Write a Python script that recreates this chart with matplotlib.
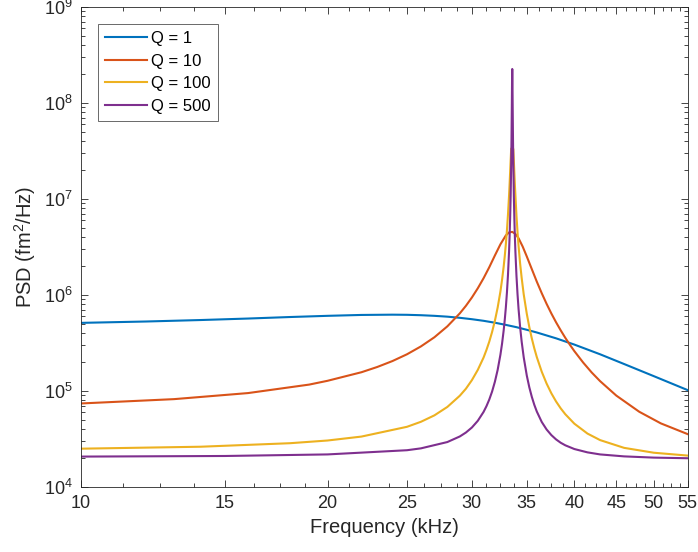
import matplotlib
matplotlib.use("Agg")
import matplotlib.pyplot as plt
from matplotlib.ticker import FixedLocator, FixedFormatter, LogLocator, NullFormatter
import numpy as np

# values (frequency in kHz, PSD in fm^2/Hz)
freq_q1 = [10, 12, 14, 16, 18, 20, 22, 24, 25, 26, 27, 28, 29, 30, 31, 32, 33, 34, 35, 36,
           38, 40, 43, 46, 50, 55]
psd_q1 = [5.10e5, 5.27e5, 5.46e5, 5.66e5, 5.87e5, 6.04e5, 6.17e5, 6.21e5, 6.19e5, 6.13e5,
          6.04e5, 5.92e5, 5.76e5, 5.57e5, 5.36e5, 5.12e5, 4.86e5, 4.60e5, 4.32e5, 4.05e5,
          3.52e5, 3.03e5, 2.40e5, 1.90e5, 1.42e5, 1.015e5]

freq_q10 = [10, 13, 16, 19, 20, 22, 23, 24, 25, 26, 27, 28, 29, 29.5, 30, 30.5, 31, 31.5,
            32, 32.5, 33, 33.3, 33.6, 33.9, 34.2, 34.6, 35, 35.5, 36, 36.5, 37, 37.5, 38,
            38.5, 39, 39.5, 40, 41, 42, 43, 45, 48, 51, 55]
psd_q10 = [7.37e4, 8.18e4, 9.46e4, 1.16e5, 1.27e5, 1.56e5, 1.77e5, 2.04e5, 2.40e5, 2.90e5,
           3.61e5, 4.69e5, 6.41e5, 7.68e5, 9.38e5, 1.17e6, 1.49e6, 1.94e6, 2.57e6, 3.36e6,
           4.16e6, 4.47e6, 4.53e6, 4.31e6, 3.89e6, 3.18e6, 2.51e6, 1.85e6, 1.37e6, 1.04e6,
           8.06e5, 6.39e5, 5.17e5, 4.26e5, 3.56e5, 3.02e5, 2.59e5, 1.97e5, 1.55e5, 1.26e5,
           8.91e4, 6.04e4, 4.57e4, 3.53e4]

freq_q100 = [10, 14, 18, 20, 22, 25, 26, 27, 28, 29, 29.5, 30, 30.5, 31, 31.25, 31.5, 31.75,
             32, 32.25, 32.5, 32.65, 32.8, 32.9, 33, 33.1, 33.2, 33.3, 33.35, 33.45, 33.5,
             33.7, 33.75, 33.85, 34.0, 34.1, 34.2, 34.35, 34.5, 34.7, 35, 35.25, 35.5, 35.75,
             36, 36.5, 37, 37.5, 38, 38.5, 39, 40, 41.5, 43, 46, 50, 55]
psd_q100 = [2.49e4, 2.61e4, 2.84e4, 3.03e4, 3.33e4, 4.21e4, 4.75e4, 5.54e4, 6.78e4, 8.88e4,
            1.05e5, 1.29e5, 1.65e5, 2.22e5, 2.66e5, 3.25e5, 4.10e5, 5.36e5, 7.36e5, 1.08e6,
            1.43e6, 1.97e6, 2.53e6, 3.36e6, 4.67e6, 6.88e6, 1.09e7, 1.42e7, 2.53e7, 3.35e7,
            3.31e7, 2.49e7, 1.39e7, 6.69e6, 4.52e6, 3.24e6, 2.12e6, 1.50e6, 1.01e6, 6.34e5,
            4.60e5, 3.50e5, 2.76e5, 2.24e5, 1.58e5, 1.19e5, 9.41e4, 7.73e4, 6.55e4, 5.69e4,
            4.54e4, 3.58e4, 3.06e4, 2.54e4, 2.26e4, 2.11e4]

freq_q500 = [10, 15, 20, 25, 26, 28, 29, 29.5, 30, 30.5, 31, 31.25, 31.5, 31.75, 32, 32.25,
             32.5, 32.65, 32.8, 32.9, 33, 33.1, 33.2, 33.3, 33.35, 33.4, 33.45, 33.5, 33.53,
             33.56, 33.58, 33.6, 33.62, 33.64, 33.67, 33.7, 33.75, 33.8, 33.85, 33.9, 34.0,
             34.1, 34.2, 34.35, 34.5, 34.7, 35, 35.25, 35.5, 35.75, 36, 36.5, 37, 37.5, 38,
             38.5, 39, 40, 41.5, 43, 46, 50, 55]
psd_q500 = [2.06e4, 2.09e4, 2.17e4, 2.40e4, 2.51e4, 2.92e4, 3.34e4, 3.67e4, 4.14e4, 4.86e4,
            6.02e4, 6.90e4, 8.10e4, 9.81e4, 1.24e5, 1.65e5, 2.37e5, 3.09e5, 4.26e5, 5.49e5,
            7.37e5, 1.05e6, 1.62e6, 2.84e6, 4.05e6, 6.25e6, 1.08e7, 2.29e7, 4.23e7, 9.33e7,
            1.67e8, 2.26e8, 1.67e8, 9.32e7, 4.22e7, 2.28e7, 1.07e7, 6.17e6, 3.97e6, 2.79e6,
            1.58e6, 1.02e6, 7.12e5, 4.61e5, 3.25e5, 2.23e5, 1.44e5, 1.085e5, 8.62e4, 7.12e4,
            6.07e4, 4.73e4, 3.95e4, 3.45e4, 3.11e4, 2.87e4, 2.70e4, 2.47e4, 2.28e4, 2.17e4,
            2.07e4, 2.01e4, 1.98e4]

series_labels = ["Q = 1", "Q = 10", "Q = 100", "Q = 500"]
series_colors = ["#0072BD", "#D95319", "#EDB120", "#7E2F8E"]

x_ticks = [10, 15, 20, 25, 30, 35, 40, 45, 50, 55]
x_minor = list(np.arange(10, 55.01, 1.25))

plt.rcParams['font.family'] = ['Liberation Sans', 'DejaVu Sans']
plt.rcParams['mathtext.fontset'] = 'custom'
plt.rcParams['mathtext.rm'] = 'Liberation Sans'
plt.rcParams['mathtext.it'] = 'Liberation Sans:italic'

axis_col = '#262626'

fig = plt.figure(figsize=(6.98, 5.52), dpi=100)
ax = fig.add_axes([0.1156, 0.1183, 0.8697, 0.8690])

data = [(freq_q1, psd_q1), (freq_q10, psd_q10), (freq_q100, psd_q100), (freq_q500, psd_q500)]
for (f, p), lab, col in zip(data, series_labels, series_colors):
    ax.plot(f, p, color=col, lw=1.5, label=lab)

ax.set_xscale('log')
ax.set_yscale('log')
ax.set_xlim(10, 55)
ax.set_ylim(1e4, 1e9)

ax.xaxis.set_major_locator(FixedLocator(x_ticks))
ax.xaxis.set_major_formatter(FixedFormatter([str(t) for t in x_ticks]))
ax.xaxis.set_minor_locator(FixedLocator(x_minor))
ax.xaxis.set_minor_formatter(NullFormatter())
ax.yaxis.set_major_locator(LogLocator(base=10, numticks=10))
ax.yaxis.set_minor_locator(LogLocator(base=10, subs=np.arange(2, 10), numticks=10))
ax.yaxis.set_minor_formatter(NullFormatter())

ax.tick_params(which='both', direction='in', top=True, right=True, colors=axis_col,
               labelsize=13, width=0.6)
ax.tick_params(which='major', length=5, pad=6)
ax.tick_params(which='minor', length=3)
for s in ax.spines.values():
    s.set_color(axis_col)
    s.set_linewidth(0.6)

ax.set_xlabel('Frequency (kHz)', fontsize=14.5, color=axis_col, labelpad=4)
ax.set_ylabel('PSD (fm$^2$/Hz)', fontsize=14.5, color=axis_col, labelpad=4)

leg = ax.legend(loc='upper left', bbox_to_anchor=(0.028, 0.965), borderaxespad=0,
                fancybox=False, edgecolor=axis_col, fontsize=12, handlelength=2.5,
                handletextpad=0.25, labelspacing=0.45, borderpad=0.45)
leg.get_frame().set_linewidth(0.6)

fig.savefig('out.png', dpi=100)
